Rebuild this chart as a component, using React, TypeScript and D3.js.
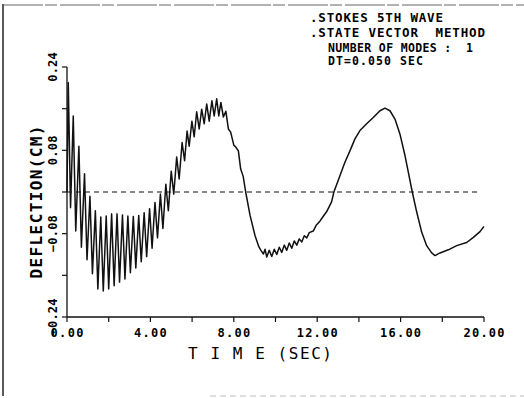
import { useRef, useEffect } from "react";
import * as d3 from "d3";

// peaks / troughs (sec, cm)
const TIME = [
  0.0, 0.06, 0.17, 0.3, 0.42, 0.57, 0.69, 0.84, 0.96, 1.1, 1.22, 1.36, 1.48,
  1.62, 1.74, 1.88, 2.0, 2.14, 2.26, 2.4, 2.52, 2.66, 2.78, 2.92, 3.04, 3.18,
  3.3, 3.44, 3.56, 3.7, 3.82, 3.96, 4.08, 4.22, 4.34, 4.48, 4.6, 4.74, 4.86,
  5.0, 5.12, 5.26, 5.38, 5.52, 5.64, 5.76, 5.86, 5.99, 6.1, 6.22, 6.34, 6.46,
  6.58, 6.7, 6.82, 6.95, 7.06, 7.18, 7.28, 7.38, 7.5, 7.62, 7.74, 7.85, 8.0,
  8.1, 8.22, 8.33, 8.45, 8.57, 8.78, 9.02, 9.2, 9.3, 9.42, 9.5, 9.58, 9.7,
  9.82, 9.94, 10.06, 10.18, 10.3, 10.42, 10.54, 10.66, 10.78, 10.9, 11.02,
  11.14, 11.26, 11.38, 11.5, 11.62, 11.81, 11.95, 12.13, 12.3, 12.45, 12.69,
  12.8, 13.09, 13.33, 13.57, 13.81, 14.05, 14.37, 14.69, 15.01, 15.25, 15.49,
  15.73, 15.97, 16.21, 16.37, 16.56, 16.77, 17.01, 17.25, 17.49, 17.65, 17.89,
  18.29, 18.69, 19.17, 19.49, 19.81, 20.0,
];
const DEFLECTION = [
  0.0, 0.21, -0.03, 0.146, -0.075, 0.088, -0.106, 0.035, -0.13, -0.008, -0.157,
  -0.036, -0.186, -0.048, -0.19, -0.046, -0.186, -0.042, -0.18, -0.042, -0.173,
  -0.044, -0.167, -0.046, -0.155, -0.047, -0.146, -0.045, -0.134, -0.04,
  -0.124, -0.032, -0.108, -0.02, -0.088, -0.004, -0.07, 0.015, -0.036, 0.04,
  -0.004, 0.067, 0.025, 0.095, 0.06, 0.117, 0.088, 0.136, 0.106, 0.154, 0.121,
  0.159, 0.131, 0.169, 0.136, 0.175, 0.146, 0.179, 0.146, 0.172, 0.144, 0.155,
  0.121, 0.115, 0.09, 0.086, 0.079, 0.044, 0.03, 0.0, -0.045, -0.084, -0.105,
  -0.112, -0.119, -0.11, -0.125, -0.112, -0.124, -0.11, -0.12, -0.106, -0.116,
  -0.102, -0.112, -0.098, -0.108, -0.094, -0.102, -0.09, -0.096, -0.084,
  -0.088, -0.078, -0.075, -0.064, -0.056, -0.046, -0.038, -0.019, 0.0, 0.031,
  0.057, 0.079, 0.102, 0.118, 0.131, 0.143, 0.156, 0.161, 0.156, 0.14, 0.111,
  0.07, 0.038, 0.0, -0.038, -0.077, -0.103, -0.117, -0.122, -0.117, -0.111,
  -0.103, -0.097, -0.087, -0.076, -0.066,
];

const X_TICKS = [0, 2, 4, 6, 8, 10, 12, 14, 16, 18, 20];
const X_LABELS = [0, 4, 8, 12, 16, 20];
const Y_TICKS = [-0.24, -0.16, -0.08, 0, 0.08, 0.16, 0.24];
const Y_LABELS = [-0.24, -0.08, 0.08, 0.24];

const LEGEND = [
  ".STOKES 5TH WAVE",
  ".STATE VECTOR  METHOD",
  "NUMBER OF MODES :  1",
  "DT=0.050 SEC",
];

const FONT = "'DejaVu Sans Mono', monospace";

export default function App() {
  const svgRef = useRef<SVGSVGElement>(null);

  useEffect(() => {
    const svgEl = svgRef.current;
    if (!svgEl) return;
    const W = 524;
    const H = 398;
    const margin = { top: 67, right: 40, bottom: 81, left: 67 };

    const svg = d3.select(svgEl).attr("width", W).attr("height", H);
    svg.selectAll("*").remove();
    svg.append("rect").attr("width", W).attr("height", H).attr("fill", "#fff");

    // scan frame
    svg.append("line").attr("x1", 3).attr("x2", 3).attr("y1", 4).attr("y2", 396)
      .attr("stroke", "#222").attr("stroke-width", 1.5);
    svg.append("line").attr("x1", 3).attr("x2", W).attr("y1", 5).attr("y2", 5)
      .attr("stroke", "#666").attr("stroke-width", 1.2).attr("stroke-dasharray", "40,2,12,3");
    svg.append("line").attr("x1", 210).attr("x2", W).attr("y1", 396).attr("y2", 396)
      .attr("stroke", "#bbb").attr("stroke-width", 1).attr("stroke-dasharray", "6,4");

    const x = d3.scaleLinear().domain([0, 20]).range([margin.left, W - margin.right]);
    const y = d3.scaleLinear().domain([-0.24, 0.24]).range([H - margin.bottom, margin.top]);

    const g = svg.append("g");

    // zero reference
    g.append("line")
      .attr("x1", x(0)).attr("x2", x(19.7))
      .attr("y1", y(0)).attr("y2", y(0))
      .attr("stroke", "#111").attr("stroke-width", 1)
      .attr("stroke-dasharray", "5,4");

    // axes
    g.append("line").attr("x1", x(0)).attr("x2", x(20)).attr("y1", y(-0.24)).attr("y2", y(-0.24))
      .attr("stroke", "#111").attr("stroke-width", 1.3);
    g.append("line").attr("x1", x(0)).attr("x2", x(0)).attr("y1", y(-0.24)).attr("y2", y(0.24))
      .attr("stroke", "#111").attr("stroke-width", 1.3);

    g.selectAll(".xt").data(X_TICKS).enter().append("line")
      .attr("x1", (d) => x(d)).attr("x2", (d) => x(d))
      .attr("y1", y(-0.24)).attr("y2", y(-0.24) + 5)
      .attr("stroke", "#111").attr("stroke-width", 1.2);
    g.selectAll(".yt").data(Y_TICKS).enter().append("line")
      .attr("x1", x(0) - 5).attr("x2", x(0))
      .attr("y1", (d) => y(d)).attr("y2", (d) => y(d))
      .attr("stroke", "#111").attr("stroke-width", 1.2);

    g.selectAll(".xl").data(X_LABELS).enter().append("text")
      .attr("x", (d) => x(d)).attr("y", y(-0.24) + 20)
      .attr("text-anchor", "middle")
      .attr("font-family", FONT).attr("font-weight", "bold").attr("font-size", 12)
      .attr("textLength", (d) => d3.format(".2f")(d).length * 8.2)
      .attr("lengthAdjust", "spacing")
      .text((d) => d3.format(".2f")(d));

    g.selectAll(".yl").data(Y_LABELS).enter().append("text")
      .attr("transform", (d) => `translate(57,${y(d)}) rotate(-90)`)
      .attr("text-anchor", "middle")
      .attr("font-family", FONT).attr("font-weight", "bold").attr("font-size", 12)
      .attr("textLength", (d) => d3.format(".2f")(d).length * 7.4)
      .attr("lengthAdjust", "spacing")
      .text((d) => d3.format(".2f")(d));

    // axis titles
    g.append("text").attr("x", 188).attr("y", 359)
      .attr("font-family", FONT).attr("font-size", 16)
      .attr("textLength", 144).attr("lengthAdjust", "spacing")
      .text("T I M E (SEC)");
    g.append("text")
      .attr("transform", `translate(42,${y(0) + 10}) rotate(-90)`)
      .attr("text-anchor", "middle")
      .attr("font-family", FONT).attr("font-weight", "bold").attr("font-size", 16)
      .attr("textLength", 153).attr("lengthAdjust", "spacing")
      .text("DEFLECTION(CM)");

    // legend block
    const legendX = [310, 310, 328, 328];
    const legendY = [22, 37, 52, 65];
    const legendW = [133, 175, 145, 95];
    g.selectAll(".lg").data(LEGEND).enter().append("text")
      .attr("x", (_, i) => legendX[i]).attr("y", (_, i) => legendY[i])
      .attr("font-family", FONT).attr("font-weight", "bold")
      .attr("font-size", (_, i) => (i < 2 ? 12.5 : 11.5))
      .attr("textLength", (_, i) => legendW[i]).attr("lengthAdjust", "spacing")
      .style("white-space", "pre")
      .text((d) => d);

    // response curve
    const pts: [number, number][] = TIME.map((t, i) => [t, DEFLECTION[i]]);
    const lineGen = d3.line<[number, number]>()
      .x((d) => x(d[0]))
      .y((d) => y(d[1]));
    g.append("path")
      .datum(pts)
      .attr("fill", "none")
      .attr("stroke", "#111")
      .attr("stroke-width", 1.5)
      .attr("stroke-linejoin", "round")
      .attr("d", lineGen as any);
  }, []);

  return (
    <div style={{ position: "absolute", left: 0, top: 0 }}>
      <svg ref={svgRef} style={{ display: "block" }} />
    </div>
  );
}
